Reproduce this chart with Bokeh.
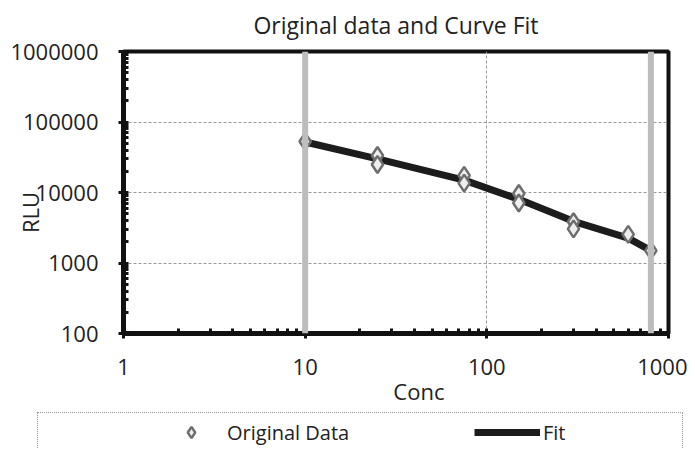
from bokeh.plotting import figure
from bokeh.layouts import column
from bokeh.models import (FixedTicker, NumeralTickFormatter, Span, Legend,
                          LegendItem, Range1d)
from bokeh.embed import file_html
from bokeh.resources import INLINE

# ---- data ----
conc = [10, 25, 25, 75, 75, 150, 150, 300, 300, 600, 800]
rlu = [53000, 33500, 25000, 17500, 13600, 9700, 7100, 3850, 3050, 2550, 1500]
fit_conc = [10, 25, 75, 150, 300, 600, 800]
fit_rlu = [52000, 30000, 15000, 8000, 3900, 2250, 1500]
band_conc = [10, 800]
x_ticks = [1, 10, 100, 1000]
y_ticks = [100, 1000, 10000, 100000, 1000000]
x_minor = [m * 10 ** d for d in range(0, 3) for m in range(2, 10)]
y_minor = [m * 10 ** d for d in range(2, 6) for m in range(2, 10)]

FONT = "Open Sans"
TXT = "#222222"
NB = "\u00a0"

p = figure(frame_width=545, frame_height=282, x_axis_type="log", y_axis_type="log",
           x_range=Range1d(1, 1000), y_range=Range1d(100, 1000000),
           output_backend="svg", toolbar_location=None,
           min_border_left=123, min_border_right=19, min_border_top=50,
           min_border_bottom=79, title="Original data and Curve Fit")

p.title.text_font = FONT
p.title.text_font_size = "23px"
p.title.text_font_style = "normal"
p.title.align = "center"
p.title.vertical_align = "top"
p.title.text_color = TXT
p.title.standoff = 17

p.outline_line_color = "#111111"
p.outline_line_width = 4

for ax in (p.xaxis[0], p.yaxis[0]):
    ax.axis_line_color = "#111111"
    ax.axis_line_width = 5
    ax.major_tick_line_color = "#111111"
    ax.major_tick_line_width = 3
    ax.minor_tick_line_color = "#111111"
    ax.minor_tick_line_width = 3
    ax.major_tick_in = 5
    ax.major_tick_out = 5
    ax.minor_tick_in = 5
    ax.minor_tick_out = 0
    ax.major_label_text_font = FONT
    ax.major_label_text_font_size = "22px"
    ax.major_label_text_color = TXT
    ax.axis_label_text_font = FONT
    ax.axis_label_text_font_size = "22px"
    ax.axis_label_text_font_style = "normal"
    ax.axis_label_text_color = TXT
    ax.formatter = NumeralTickFormatter(format="0")

p.xaxis[0].ticker = FixedTicker(ticks=x_ticks, minor_ticks=x_minor)
p.yaxis[0].ticker = FixedTicker(ticks=y_ticks, minor_ticks=y_minor)
p.xaxis[0].major_label_standoff = 20
p.yaxis[0].major_label_standoff = 20

p.yaxis[0].axis_label = "RLU" + NB * 7
p.yaxis[0].axis_label_standoff = -38
p.xaxis[0].axis_label = NB * 8 + "Conc"
p.xaxis[0].axis_label_standoff = -2

p.xgrid.ticker = FixedTicker(ticks=x_ticks)
p.ygrid.ticker = FixedTicker(ticks=y_ticks)
for g in (p.xgrid[0], p.ygrid[0]):
    g.grid_line_color = "#9a9a9a"
    g.grid_line_dash = "3 2"
    g.grid_line_width = 1

for b in band_conc:
    p.add_layout(Span(location=b, dimension="height", line_color="#bdbdbd", line_width=6))

LINE_STYLE = dict(line_color="#1c1c1c", line_width=7)
MARK_STYLE = dict(marker="diamond", fill_color="#eeeeee", line_color="#6e6e6e", line_width=2.5)

p.line(fit_conc, fit_rlu, **LINE_STYLE)
p.scatter(conc, rlu, size=17, **MARK_STYLE)

# ---- legend strip (dotted box = the strip's own border) ----
leg = figure(width=646, height=36, x_range=Range1d(0, 1), y_range=Range1d(0, 1),
             output_backend="svg", toolbar_location=None,
             min_border_left=86, min_border_right=15, min_border_top=0, min_border_bottom=0,
             x_axis_location=None, y_axis_location=None, margin=(0, 0, 0, 37),
             styles={"border-top": "1px dotted #9a9a9a",
                     "border-left": "1px dotted #9a9a9a",
                     "border-right": "1px dotted #9a9a9a"})
leg.grid.visible = False
leg.outline_line_color = None

# legend proxies: same series, but the strip's ranges keep them out of view
r_pts_leg = leg.scatter(conc, rlu, size=11, **MARK_STYLE)
r_fit_leg = leg.line(fit_conc, fit_rlu, **LINE_STYLE)

legend = Legend(items=[LegendItem(label="Original Data", renderers=[r_pts_leg]),
                       LegendItem(label="Fit", renderers=[r_fit_leg])],
                orientation="horizontal", location=(-8, -2),
                glyph_width=66, glyph_height=28, label_standoff=3,
                label_width=247, spacing=0, padding=5, margin=0,
                border_line_alpha=0, background_fill_alpha=0,
                label_text_font=FONT, label_text_font_size="20px",
                label_text_color=TXT)
leg.add_layout(legend, "center")

layout = column(p, leg, spacing=0)
open("out.html", "w").write(file_html(layout, INLINE))
